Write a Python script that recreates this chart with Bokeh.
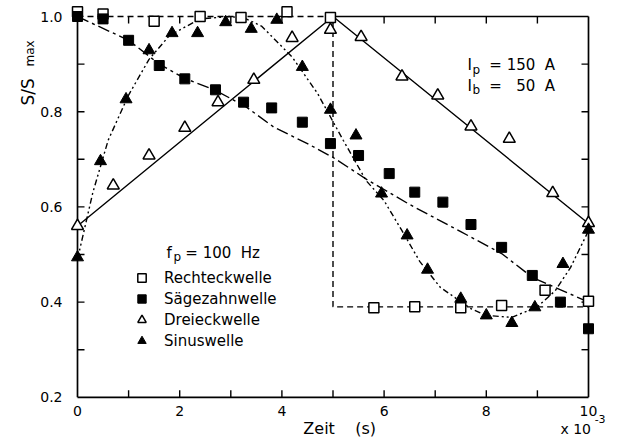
import numpy as np
from bokeh.plotting import figure
from bokeh.models import Range1d, Label, Legend, LegendItem
from bokeh.core.properties import value
from bokeh.embed import file_html
from bokeh.resources import INLINE

# ---------------- data (time in 10^-3 s, S/Smax) ----------------
rect_t = [0, 0.5, 1.5, 2.4, 3.2, 4.1, 4.95, 5.8, 6.6, 7.5, 8.3, 9.15, 10.0]
rect_s = [1.01, 1.005, 0.99, 1.0, 0.998, 1.01, 0.998, 0.388, 0.39, 0.388, 0.393, 0.425, 0.402]

saw_t = [0, 0.5, 1.0, 1.6, 2.1, 2.7, 3.25, 3.8, 4.4, 4.95, 5.5, 6.1, 6.6, 7.15, 7.7, 8.3, 8.9, 9.45, 10.0]
saw_s = [1.0, 0.995, 0.95, 0.897, 0.869, 0.846, 0.82, 0.808, 0.778, 0.733, 0.708, 0.67, 0.631, 0.61,
         0.563, 0.515, 0.456, 0.40, 0.344]

tri_t = [0, 0.7, 1.4, 2.1, 2.75, 3.45, 4.2, 4.95, 5.55, 6.35, 7.05, 7.7, 8.45, 9.3, 10.0]
tri_s = [0.56, 0.645, 0.708, 0.766, 0.82, 0.867, 0.955, 0.972, 0.957, 0.874, 0.834, 0.769, 0.743, 0.629, 0.566]

sin_t = [0, 0.45, 0.95, 1.4, 1.85, 2.35, 2.9, 3.4, 3.9, 4.4, 4.95, 5.45, 5.95, 6.45, 6.85, 7.5, 8.0,
         8.5, 8.95, 9.5, 10.0]
sin_s = [0.494, 0.696, 0.826, 0.929, 0.965, 0.965, 0.988, 0.974, 0.993, 0.894, 0.804, 0.75, 0.628,
         0.54, 0.468, 0.407, 0.372, 0.356, 0.389, 0.48, 0.552]

# hand-drawn fit curves
rect_fit_t = [0, 5, 5, 10]
rect_fit_s = [1.0, 1.0, 0.39, 0.39]
tri_fit_t = [0, 5, 10]
tri_fit_s = [0.56, 1.0, 0.565]
saw_fit_t = [0, 1.0, 1.6, 2.1, 2.7, 3.3, 3.85, 4.5, 5.0, 5.7, 6.5, 7.5, 8.3, 8.9, 10.0]
saw_fit_s = [1.0, 0.95, 0.90, 0.87, 0.845, 0.81, 0.767, 0.733, 0.704, 0.655, 0.605, 0.548, 0.502, 0.452, 0.40]
sin_fit_t = [0, 0.3, 0.6, 1.0, 1.4, 1.8, 2.4, 3.0, 3.3, 3.6, 4.2, 4.7, 5.2, 5.65, 6.0, 6.35, 6.7, 7.1,
             7.7, 8.0, 8.5, 9.0, 9.35, 9.65, 10.0]
sin_fit_s = [0.49, 0.63, 0.74, 0.835, 0.91, 0.96, 0.995, 1.0, 0.995, 0.98, 0.915, 0.838, 0.74, 0.655,
             0.613, 0.55, 0.485, 0.431, 0.386, 0.372, 0.368, 0.39, 0.424, 0.473, 0.55]

# axes: ticks and tick labels
x_ticks = [0, 2, 4, 6, 8, 10]
x_tick_labels = ["0", "2", "4", "6", "8", "10"]
y_ticks = [0.2, 0.4, 0.6, 0.8, 1.0]
y_tick_labels = ["0.2", "0.4", "0.6", "0.8", "1.0"]
x_minor = [1, 2, 3, 4, 5, 6, 7, 8, 9]
y_minor = [0.3, 0.4, 0.5, 0.6, 0.7, 0.8, 0.9]
x_lo, x_hi = 0, 10
y_lo, y_hi = 0.2, 1.0

FONT = "DejaVu Sans"
NB = "\u00a0"
PX_X = 51.1   # pixels per x unit
PX_Y = 476.0  # pixels per y unit
W, H = 619, 438
X0_PX, Y1_PX = 77, 16   # pixel position of x=0 and y=1.0

p = figure(width=W, height=H,
           x_range=Range1d(-X0_PX / PX_X, (W - X0_PX) / PX_X),
           y_range=Range1d(1 - (H - Y1_PX) / PX_Y, 1 + Y1_PX / PX_Y),
           output_backend="svg", toolbar_location=None,
           x_axis_location=None, y_axis_location=None,
           min_border=0, min_border_left=0, min_border_right=0, min_border_top=0, min_border_bottom=0)
p.outline_line_color = None
p.grid.visible = False
p.background_fill_color = "white"
p.border_fill_color = "white"

# ---------------- frame & inward ticks ----------------
fw = 1.7
p.segment(x0=[x_lo, x_lo, x_hi, (x_lo + x_hi) / 2], y0=[y_lo, y_lo, y_lo, y_hi],
          x1=[x_lo, x_hi, x_hi, x_hi], y1=[y_hi, y_lo, y_hi, y_hi],
          line_color="black", line_width=fw)
tx = 7 / PX_X
ty = 7 / PX_Y
p.segment(x0=x_minor, y0=[y_lo] * len(x_minor), x1=x_minor, y1=[y_lo + ty] * len(x_minor),
          line_color="black", line_width=1.4)
p.segment(x0=x_minor, y0=[y_hi] * len(x_minor), x1=x_minor, y1=[y_hi - ty] * len(x_minor),
          line_color="black", line_width=1.4)
p.segment(x0=[x_lo] * len(y_minor), y0=y_minor, x1=[x_lo + tx] * len(y_minor), y1=y_minor,
          line_color="black", line_width=1.4)
p.segment(x0=[x_hi] * len(y_minor), y0=y_minor, x1=[x_hi - tx] * len(y_minor), y1=y_minor,
          line_color="black", line_width=1.4)

# tick labels
p.text(x=x_ticks, y=[y_lo - 14 / PX_Y] * len(x_ticks), text=x_tick_labels,
       text_align="center", text_baseline="middle", text_font=value(FONT),
       text_font_size=value("14px"), text_color="black")
p.text(x=[x_lo - 15 / PX_X] * len(y_ticks), y=y_ticks, text=y_tick_labels,
       text_align="right", text_baseline="middle", text_font=value(FONT),
       text_font_size=value("14px"), text_color="black")

# ---------------- fit curves ----------------
lw = 1.4
p.line(rect_fit_t, rect_fit_s, line_color="black", line_width=lw, line_dash="6 4")
p.line(saw_fit_t, saw_fit_s, line_color="black", line_width=lw, line_dash="12 4 3 4")
p.line(tri_fit_t, tri_fit_s, line_color="black", line_width=lw)
p.line(sin_fit_t, sin_fit_s, line_color="black", line_width=lw, line_dash="6 3 2 3 2 3")

# ---------------- markers ----------------
r_rect = p.scatter(rect_t, rect_s, marker="square", size=10, fill_color="white",
                   line_color="black", line_width=1.5)
r_saw = p.scatter(saw_t, saw_s, marker="square", size=10, fill_color="black",
                  line_color="black", line_width=1)
r_tri = p.scatter(tri_t, tri_s, marker="triangle", size=12, fill_color="white",
                  line_color="black", line_width=1.5)
r_sin = p.scatter(sin_t, sin_s, marker="triangle", size=12, fill_color="black",
                  line_color="black", line_width=1)

legend = Legend(items=[LegendItem(label="Rechteckwelle", renderers=[r_rect]),
                       LegendItem(label="Sägezahnwelle", renderers=[r_saw]),
                       LegendItem(label="Dreieckwelle", renderers=[r_tri]),
                       LegendItem(label="Sinuswelle", renderers=[r_sin])],
                location=(131, 87), border_line_color=None, background_fill_alpha=0,
                padding=0, margin=0, spacing=0, glyph_width=21, glyph_height=21,
                label_height=21, label_standoff=12,
                label_text_font=FONT, label_text_font_size="15px", label_text_color="black")
p.add_layout(legend)


def lab(x, y, text, size, **kw):
    p.add_layout(Label(x=x, y=y, text=text, text_font=FONT, text_font_size=size,
                       text_color="black", text_baseline="alphabetic", **kw))


# axis titles
lab(-0.959, 0.813, "S/S", "17px", angle=np.pi / 2)
lab(-0.935, 0.895, "max", "12px", angle=np.pi / 2)
lab(4.42, 0.1345, "Zeit" + NB * 4 + "(s)", "16px")
lab(9.45, 0.1324, "x 10", "14px")
lab(10.12, 0.1534, "-3", "11px")

# annotations
lab(1.74, 0.504, "f", "15px")
lab(1.88, 0.494, "p", "12px")
lab(2.11, 0.504, "= 100" + NB * 2 + "Hz", "15px")
lab(7.63, 0.899, "I", "15px")
lab(7.73, 0.887, "p", "12px")
lab(8.06, 0.899, "= 150" + NB * 2 + "A", "15px")
lab(7.63, 0.853, "I", "15px")
lab(7.73, 0.845, "b", "12px")
lab(8.06, 0.853, "=" + NB * 3 + "50" + NB * 2 + "A", "15px")

open("out.html", "w").write(file_html(p, INLINE))
